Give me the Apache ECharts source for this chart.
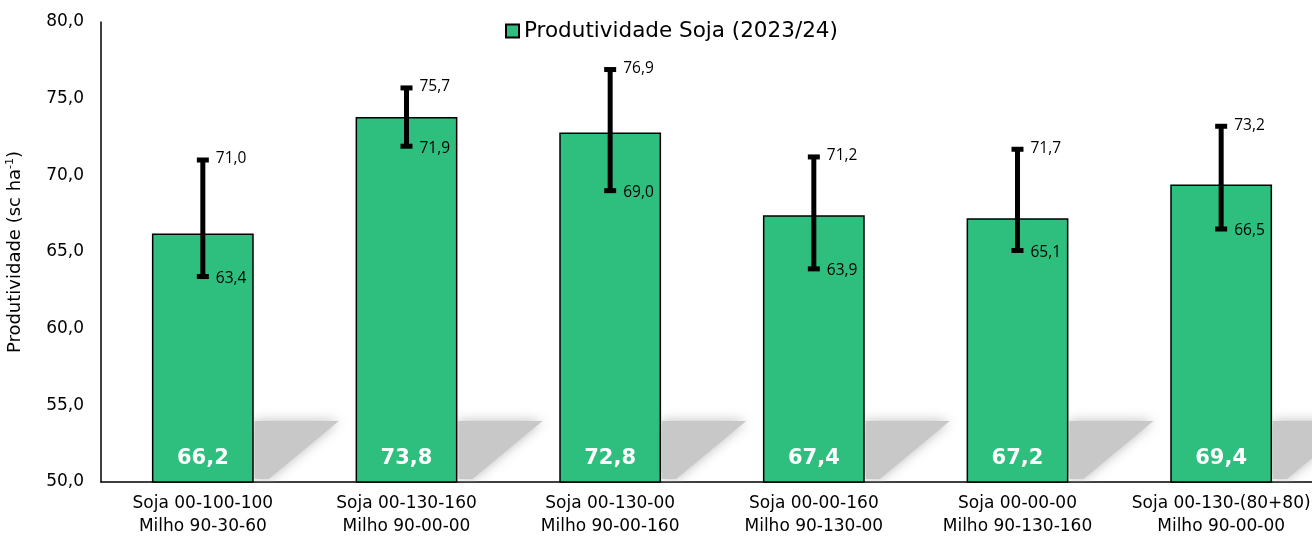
<!DOCTYPE html>
<html>
<head>
<meta charset="utf-8">
<script src="https://cdn.jsdelivr.net/npm/echarts@6/dist/echarts.min.js"></script>
<style>html,body{margin:0;padding:0;background:#fff}#c{width:1312px;height:536px}</style>
</head>
<body>
<div id="c"></div>
<script>
const categories = [
  'Soja 00-100-100\nMilho 90-30-60',
  'Soja 00-130-160\nMilho 90-00-00',
  'Soja 00-130-00\nMilho 90-00-160',
  'Soja 00-00-160\nMilho 90-130-00',
  'Soja 00-00-00\nMilho 90-130-160',
  'Soja 00-130-(80+80)\nMilho 90-00-00'
];
const productivity = [66.2, 73.8, 72.8, 67.4, 67.2, 69.4];
const errorHigh = [71.0, 75.7, 76.9, 71.2, 71.7, 73.2];
const errorLow = [63.4, 71.9, 69.0, 63.9, 65.1, 66.5];
const seriesName = 'Produtividade Soja (2023/24)';
const yTicks = { min: 50, max: 80, interval: 5 };

const FONT = 'DejaVu Sans';
const fmt = v => v.toFixed(1).replace('.', ',');
const GREEN = '#2ebf7e';

const chart = echarts.init(document.getElementById('c'), null, { renderer: 'canvas' });

const errData = categories.map((c, i) => [i, errorLow[i], errorHigh[i]]);
const shadowData = categories.map((c, i) => [i, yTicks.min]);

const option = {
  animation: false,
  backgroundColor: '#fff',
  legend: {
    data: [{ name: seriesName, icon: 'rect' }],
    top: 15,
    left: 500,
    itemWidth: 13,
    itemHeight: 13,
    itemGap: 7,
    textStyle: { fontFamily: FONT, fontSize: 21.5, color: '#000' }
  },
  grid: { left: 101, top: 22, bottom: 54, width: 1222, containLabel: false, outerBoundsMode: 'none' },
  xAxis: {
    type: 'category',
    data: categories,
    axisLine: { lineStyle: { color: '#000', width: 1.5 } },
    axisTick: { show: false },
    axisLabel: { fontFamily: FONT, fontSize: 17, color: '#000', lineHeight: 23, margin: 10, interval: 0 }
  },
  yAxis: {
    type: 'value',
    min: yTicks.min, max: yTicks.max, interval: yTicks.interval,
    name: '{a|Produtividade (sc ha}{s|-1}{a|)}',
    nameLocation: 'middle',
    nameGap: 76,
    nameRotate: 90,
    nameTextStyle: {
      rich: {
        a: { fontFamily: FONT, fontSize: 18, color: '#000' },
        s: { fontFamily: FONT, fontSize: 11, color: '#000', verticalAlign: 'top', padding: [0, 0, 9, 0] }
      }
    },
    axisLine: { show: true, lineStyle: { color: '#000', width: 1.5 } },
    axisTick: { show: false },
    splitLine: { show: false },
    axisLabel: { fontFamily: FONT, fontSize: 17, color: '#000', margin: 17, formatter: v => fmt(v) }
  },
  series: [
    {
      type: 'custom',
      name: 'shadow',
      z: 1,
      silent: true,
      clip: true,
      data: shadowData,
      renderItem: (params, api) => {
        const p = api.coord([api.value(0), api.value(1)]);
        const bw = api.size([1, 0])[0] * 0.5;
        const xr = p[0] + bw / 2 + 1;
        const yb = p[1] - 1;
        return {
          type: 'polygon',
          shape: { points: [[xr, yb - 2], [xr, yb - 60], [xr + 84, yb - 60], [xr + 14, yb - 2]] },
          style: { fill: '#c8c8c8', shadowBlur: 12, shadowColor: 'rgba(180,180,180,0.9)' }
        };
      }
    },
    {
      type: 'bar',
      name: seriesName,
      z: 2,
      data: productivity,
      barWidth: '50%',
      itemStyle: { color: GREEN, borderColor: '#000', borderWidth: 1.5 },
      label: {
        show: true,
        position: 'insideBottom',
        distance: 14,
        formatter: p => fmt(p.value),
        fontFamily: FONT, fontWeight: 'bold', fontSize: 21, color: '#fff'
      }
    },
    {
      type: 'custom',
      name: 'err',
      z: 3,
      data: errData,
      renderItem: (params, api) => {
        const lo = api.coord([api.value(0), api.value(1)]);
        const hi = api.coord([api.value(0), api.value(2)]);
        const x = lo[0];
        const cap = 6;
        const lineStyle = { stroke: '#000', lineWidth: 5 };
        const tStyle = (txt, y) => ({
          type: 'text',
          style: { text: txt, x: x + 13, y: y, fill: '#000', font: '15.5px "Open Sans"', textAlign: 'left', textVerticalAlign: 'middle' }
        });
        return {
          type: 'group',
          children: [
            { type: 'line', shape: { x1: x, y1: lo[1], x2: x, y2: hi[1] }, style: lineStyle },
            { type: 'line', shape: { x1: x - cap, y1: lo[1], x2: x + cap, y2: lo[1] }, style: lineStyle },
            { type: 'line', shape: { x1: x - cap, y1: hi[1], x2: x + cap, y2: hi[1] }, style: lineStyle },
            tStyle(fmt(api.value(2)), hi[1] - 1),
            tStyle(fmt(api.value(1)), lo[1] + 2)
          ]
        };
      }
    }
  ]
};
chart.setOption(option);
</script>
</body>
</html>
